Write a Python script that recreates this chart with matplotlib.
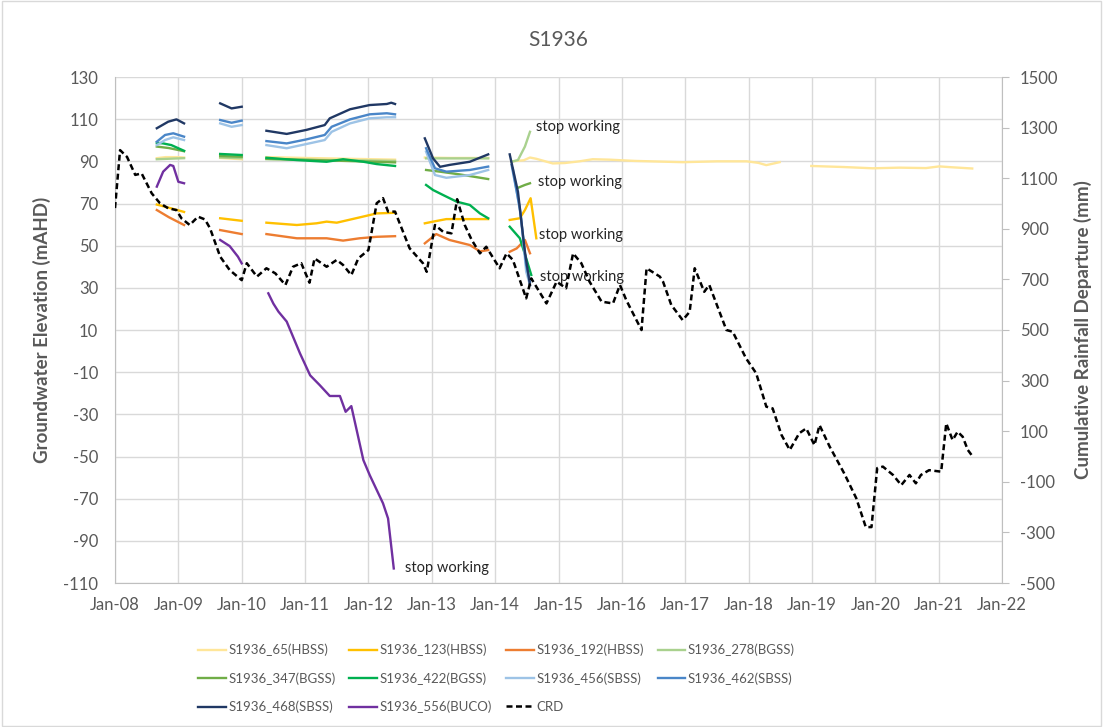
import numpy as np
import matplotlib.pyplot as plt
from matplotlib.lines import Line2D
from matplotlib.patches import Rectangle

plt.rcParams['font.family'] = ['Lato', 'DejaVu Sans']
plt.rcParams['axes.unicode_minus'] = False

nan = np.nan

years = list(range(2008, 2023))
year_labels = ['Jan-%02d' % (y % 100) for y in years]
gw_ticks = list(range(-110, 131, 20))
crd_ticks = list(range(-500, 1501, 200))

# groundwater levels (mAHD), time in decimal years, nan = gap in record
s65_t = [2008.66, 2008.80, 2009.00, 2009.09, nan,
         2009.66, 2010.00, nan,
         2010.39, 2011.00, 2011.70, 2012.42, nan,
         2012.89, 2013.30, 2013.89, nan,
         2014.26, 2014.45, 2014.55, 2014.65, 2014.91, 2015.10, 2015.33, 2015.54,
         2015.80, 2016.20, 2016.96, 2017.50, 2017.97, 2018.15, 2018.28, 2018.40, 2018.49, nan,
         2018.99, 2019.50, 2019.96, 2020.38, 2020.80, 2021.01, 2021.20, 2021.53]
s65_v = [91.5, 92.0, 92.0, 91.8, nan,
         91.6, 91.0, nan,
         92.0, 91.6, 91.2, 90.8, nan,
         91.8, 91.6, 91.6, nan,
         90.0, 90.5, 91.8, 91.2, 89.0, 89.2, 90.0, 91.0,
         90.8, 90.2, 89.6, 90.0, 90.0, 89.3, 88.2, 89.0, 89.6, nan,
         87.8, 87.3, 86.7, 87.0, 86.8, 87.6, 87.2, 86.6]

s123_t = [2008.66, 2008.85, 2009.09, nan,
          2009.66, 2010.00, nan,
          2010.39, 2010.87, 2011.18, 2011.34, 2011.50, 2011.86, 2012.13, 2012.42, nan,
          2012.89, 2013.02, 2013.23, 2013.49, 2013.89, nan,
          2014.23, 2014.39, 2014.47, 2014.56, 2014.65]
s123_v = [69.5, 68.0, 66.0, nan,
          63.0, 61.8, nan,
          60.9, 59.8, 60.6, 61.4, 60.9, 63.4, 65.3, 65.6, nan,
          60.6, 61.4, 62.6, 62.6, 62.6, nan,
          62.2, 63.0, 66.9, 72.5, 53.5]

s192_t = [2008.66, 2008.85, 2009.09, nan,
          2009.66, 2010.00, nan,
          2010.39, 2010.87, 2011.34, 2011.60, 2011.86, 2012.13, 2012.42, nan,
          2012.89, 2013.07, 2013.28, 2013.60, 2013.76, 2013.89, nan,
          2014.23, 2014.34, 2014.47, 2014.55]
s192_v = [66.9, 63.5, 59.8, nan,
          57.4, 55.5, nan,
          55.5, 53.5, 53.5, 52.4, 53.5, 54.2, 54.5, nan,
          51.1, 55.5, 52.7, 50.3, 47.3, 47.9, nan,
          47.1, 48.7, 52.7, 46.4]

s278_t = [2008.66, 2009.09, nan,
          2009.66, 2010.00, nan,
          2010.39, 2011.40, 2012.42, nan,
          2012.91, 2013.89, nan,
          2014.26, 2014.36, 2014.47, 2014.55]
s278_v = [91.0, 91.5, nan,
          91.8, 91.5, nan,
          91.0, 90.6, 90.2, nan,
          91.4, 91.4, nan,
          89.8, 90.6, 97.0, 104.0]

s347_t = [2008.66, 2008.85, 2009.09, nan,
          2009.66, 2010.00, nan,
          2010.39, 2011.40, 2012.42, nan,
          2012.91, 2013.13, 2013.44, 2013.89, nan,
          2014.34, 2014.47, 2014.55]
s347_v = [97.0, 96.3, 94.8, nan,
          92.5, 92.2, nan,
          91.2, 90.4, 89.5, nan,
          85.9, 85.1, 83.8, 81.6, nan,
          77.2, 78.8, 79.6]

s422_t = [2008.66, 2008.76, 2008.89, 2009.00, 2009.09, nan,
          2009.66, 2010.00, nan,
          2010.39, 2010.87, 2011.34, 2011.60, 2011.92, 2012.13, 2012.42, nan,
          2012.91, 2013.02, 2013.18, 2013.39, 2013.60, 2013.76, 2013.89, nan,
          2014.23, 2014.39, 2014.49, 2014.57]
s422_v = [98.8, 98.5, 97.7, 96.2, 95.0, nan,
          93.5, 93.0, nan,
          91.7, 90.6, 89.8, 91.0, 89.8, 88.7, 87.8, nan,
          78.8, 76.4, 74.0, 70.9, 69.3, 65.3, 63.0, nan,
          59.0, 53.5, 44.0, 36.1]

s456_t = [2008.66, 2008.79, 2008.92, 2009.09, nan,
          2009.66, 2009.84, 2010.00, nan,
          2010.39, 2010.71, 2011.02, 2011.31, 2011.42, 2011.71, 2012.02, 2012.29, 2012.42, nan,
          2012.91, 2013.05, 2013.23, 2013.60, 2013.89, nan,
          2014.28, 2014.41, 2014.49, 2014.55]
s456_v = [97.7, 100.1, 101.4, 100.1, nan,
          108.0, 106.4, 107.2, nan,
          97.7, 96.2, 98.2, 100.1, 104.0, 108.0, 110.4, 110.9, 110.9, nan,
          94.6, 83.5, 82.2, 83.5, 85.9, nan,
          86.7, 63.0, 37.6, 31.3]

s462_t = [2008.66, 2008.79, 2008.92, 2009.09, nan,
          2009.66, 2009.84, 2010.00, nan,
          2010.39, 2010.71, 2011.02, 2011.31, 2011.42, 2011.71, 2012.02, 2012.29, 2012.42, nan,
          2012.91, 2013.05, 2013.23, 2013.60, 2013.89, nan,
          2014.26, 2014.39, 2014.49, 2014.55]
s462_v = [99.3, 102.5, 103.3, 101.7, nan,
          109.6, 108.3, 109.3, nan,
          99.6, 98.5, 100.4, 102.5, 106.4, 109.9, 112.3, 112.8, 112.3, nan,
          96.2, 86.7, 85.1, 85.9, 87.5, nan,
          88.3, 67.7, 40.8, 32.9]

s468_t = [2008.66, 2008.84, 2008.97, 2009.09, nan,
          2009.66, 2009.84, 2010.00, nan,
          2010.39, 2010.71, 2011.02, 2011.31, 2011.39, 2011.71, 2012.02, 2012.29, 2012.36, 2012.42, nan,
          2012.89, 2013.02, 2013.13, 2013.28, 2013.60, 2013.89, nan,
          2014.23, 2014.36, 2014.47, 2014.55]
s468_v = [105.7, 108.8, 109.9, 108.0, nan,
          117.5, 115.1, 115.9, nan,
          104.5, 103.0, 104.9, 107.2, 110.4, 114.7, 116.7, 117.2, 117.8, 117.2, nan,
          100.9, 91.4, 87.4, 88.3, 89.8, 93.3, nan,
          93.3, 75.6, 47.1, 31.3]

s556_t = [2008.66, 2008.76, 2008.87, 2008.92, 2009.00, 2009.09, nan,
          2009.66, 2009.81, 2009.94, 2010.00, nan,
          2010.42, 2010.50, 2010.58, 2010.71, 2010.92, 2011.08, 2011.23, 2011.39, 2011.55,
          2011.64, 2011.73, 2011.92, 2012.02, 2012.23, 2012.31, 2012.40]
s556_v = [78.0, 85.1, 88.3, 87.8, 80.3, 79.6, nan,
          52.7, 49.8, 44.8, 41.6, nan,
          27.4, 22.5, 18.7, 14.0, -1.1, -11.5, -16.1, -21.3, -21.3,
          -28.8, -26.1, -51.7, -58.8, -72.2, -79.4, -103.1]

# cumulative rainfall departure (mm)
crd_t = [2008.00, 2008.08, 2008.19, 2008.32, 2008.42, 2008.58, 2008.71, 2008.84, 2008.97,
         2009.05, 2009.18, 2009.31, 2009.42, 2009.50, 2009.66, 2009.81, 2010.00, 2010.08,
         2010.24, 2010.39, 2010.53, 2010.69, 2010.81, 2010.94, 2011.07, 2011.15, 2011.34,
         2011.50, 2011.60, 2011.73, 2011.84, 2012.00, 2012.13, 2012.23, 2012.31, 2012.42,
         2012.65, 2012.86, 2012.92, 2013.05, 2013.18, 2013.31, 2013.40, 2013.52, 2013.63,
         2013.76, 2013.86, 2014.07, 2014.18, 2014.28, 2014.49, 2014.57, 2014.81, 2014.97,
         2015.12, 2015.23, 2015.36, 2015.49, 2015.68, 2015.86, 2015.97, 2016.07, 2016.31,
         2016.39, 2016.60, 2016.65, 2016.78, 2016.96, 2017.07, 2017.15, 2017.30, 2017.38,
         2017.65, 2017.75, 2017.96, 2018.12, 2018.28, 2018.38, 2018.52, 2018.65, 2018.80,
         2018.91, 2019.04, 2019.12, 2019.28, 2019.38, 2019.51, 2019.70, 2019.85, 2019.94,
         2020.03, 2020.12, 2020.28, 2020.41, 2020.54, 2020.64, 2020.72, 2020.85, 2021.04,
         2021.12, 2021.22, 2021.30, 2021.38, 2021.46, 2021.54]
crd_v = [982, 1211, 1184, 1113, 1119, 1040, 1001, 981, 974,
         941, 915, 948, 937, 902, 790, 737, 697, 764,
         711, 744, 724, 678, 750, 764, 687, 783, 750,
         777, 757, 717, 783, 816, 1001, 1021, 968, 968,
         823, 764, 730, 915, 888, 882, 1017, 915, 856,
         803, 829, 744, 803, 777, 625, 704, 605, 691,
         665, 803, 764, 691, 612, 605, 678, 618, 500,
         744, 711, 691, 599, 539, 572, 744, 651, 678,
         500, 493, 388, 329, 197, 190, 85, 26, 92,
         111, 45, 124, 39, -7, -67, -165, -279, -279,
         -46, -40, -73, -113, -73, -106, -73, -54, -60,
         131, 65, 98, 78, 26, -1]

note_t = [2014.65, 2014.68, 2014.70, 2014.71, 2012.58]
note_v = [106.4, 80.3, 55.0, 35.3, -103.1]

series = [
    ('S1936_65(HBSS)', s65_t, s65_v, '#FFE699'),
    ('S1936_123(HBSS)', s123_t, s123_v, '#FFC000'),
    ('S1936_192(HBSS)', s192_t, s192_v, '#ED7D31'),
    ('S1936_278(BGSS)', s278_t, s278_v, '#A9D18E'),
    ('S1936_347(BGSS)', s347_t, s347_v, '#70AD47'),
    ('S1936_422(BGSS)', s422_t, s422_v, '#00B050'),
    ('S1936_456(SBSS)', s456_t, s456_v, '#9DC3E6'),
    ('S1936_462(SBSS)', s462_t, s462_v, '#4A86C8'),
    ('S1936_468(SBSS)', s468_t, s468_v, '#203864'),
    ('S1936_556(BUCO)', s556_t, s556_v, '#7030A0'),
]

grey = '#595959'
axis_grey = '#BFBFBF'

fig = plt.figure(figsize=(11.03, 7.27), dpi=100)
fig.patches.append(Rectangle((0.002, 0.002), 0.996, 0.996, transform=fig.transFigure,
                             fill=False, edgecolor='#D9D9D9', lw=1))
ax = fig.add_axes([115 / 1103, 1 - 583 / 727, 887 / 1103, 506 / 727])

handles = []
for name, t, v, c in series:
    ln, = ax.plot(t, v, color=c, lw=1.7, label=name, solid_joinstyle='round')
    handles.append(ln)

ax.set_xlim(2008, 2022)
ax.set_ylim(-110, 130)
ax.set_xticks(years)
ax.set_xticklabels(year_labels)
ax.set_yticks(gw_ticks)
ax.grid(color='#D9D9D9', lw=1)
ax.set_axisbelow(True)
ax.tick_params(axis='both', length=0, colors=grey, labelsize=12)
ax.tick_params(axis='x', pad=10)
ax.tick_params(axis='y', pad=12)
for s in ['top', 'right']:
    ax.spines[s].set_visible(False)
for s in ['left', 'bottom']:
    ax.spines[s].set_color(axis_grey)

ax2 = ax.twinx()
crd_ln, = ax2.plot(crd_t, crd_v, color='black', lw=1.8, dashes=(2.4, 1.4), label='CRD')
ax2.set_ylim(-500, 1500)
ax2.set_yticks(crd_ticks)
ax2.tick_params(axis='y', length=5, color=axis_grey, colors=grey, labelsize=12, pad=8)
for s in ['top', 'left', 'bottom']:
    ax2.spines[s].set_visible(False)
ax2.spines['right'].set_color(axis_grey)

for t, v in zip(note_t, note_v):
    ax.text(t, v, 'stop working', fontsize=10.5, ha='left', va='center', color='#262626')

fig.text(558 / 1103, 1 - 40 / 727, 'S1936', fontsize=15, color=grey, ha='center', va='center')
fig.text(42 / 1103, 1 - 330 / 727, 'Groundwater Elevation (mAHD)', rotation=90, fontsize=13.5,
         fontweight='bold', color=grey, ha='center', va='center')
fig.text(1083 / 1103, 1 - 330 / 727, 'Cumulative Rainfall Departure (mm)', rotation=90,
         fontsize=13.5, fontweight='bold', color=grey, ha='center', va='center')

blank = Line2D([], [], color='none')
order = [handles[0], handles[4], handles[8],
         handles[1], handles[5], handles[9],
         handles[2], handles[6], crd_ln,
         handles[3], handles[7], blank]
labels = [h.get_label() if h is not blank else '' for h in order]
fig.legend(order, labels, ncol=4, loc='upper left', bbox_to_anchor=(186 / 1103, 1 - 632 / 727),
           frameon=False, fontsize=9.5, handlelength=2.1, handletextpad=0.2,
           columnspacing=1.05, labelspacing=1.2, labelcolor=grey)

fig.savefig('out.png', dpi=100)
